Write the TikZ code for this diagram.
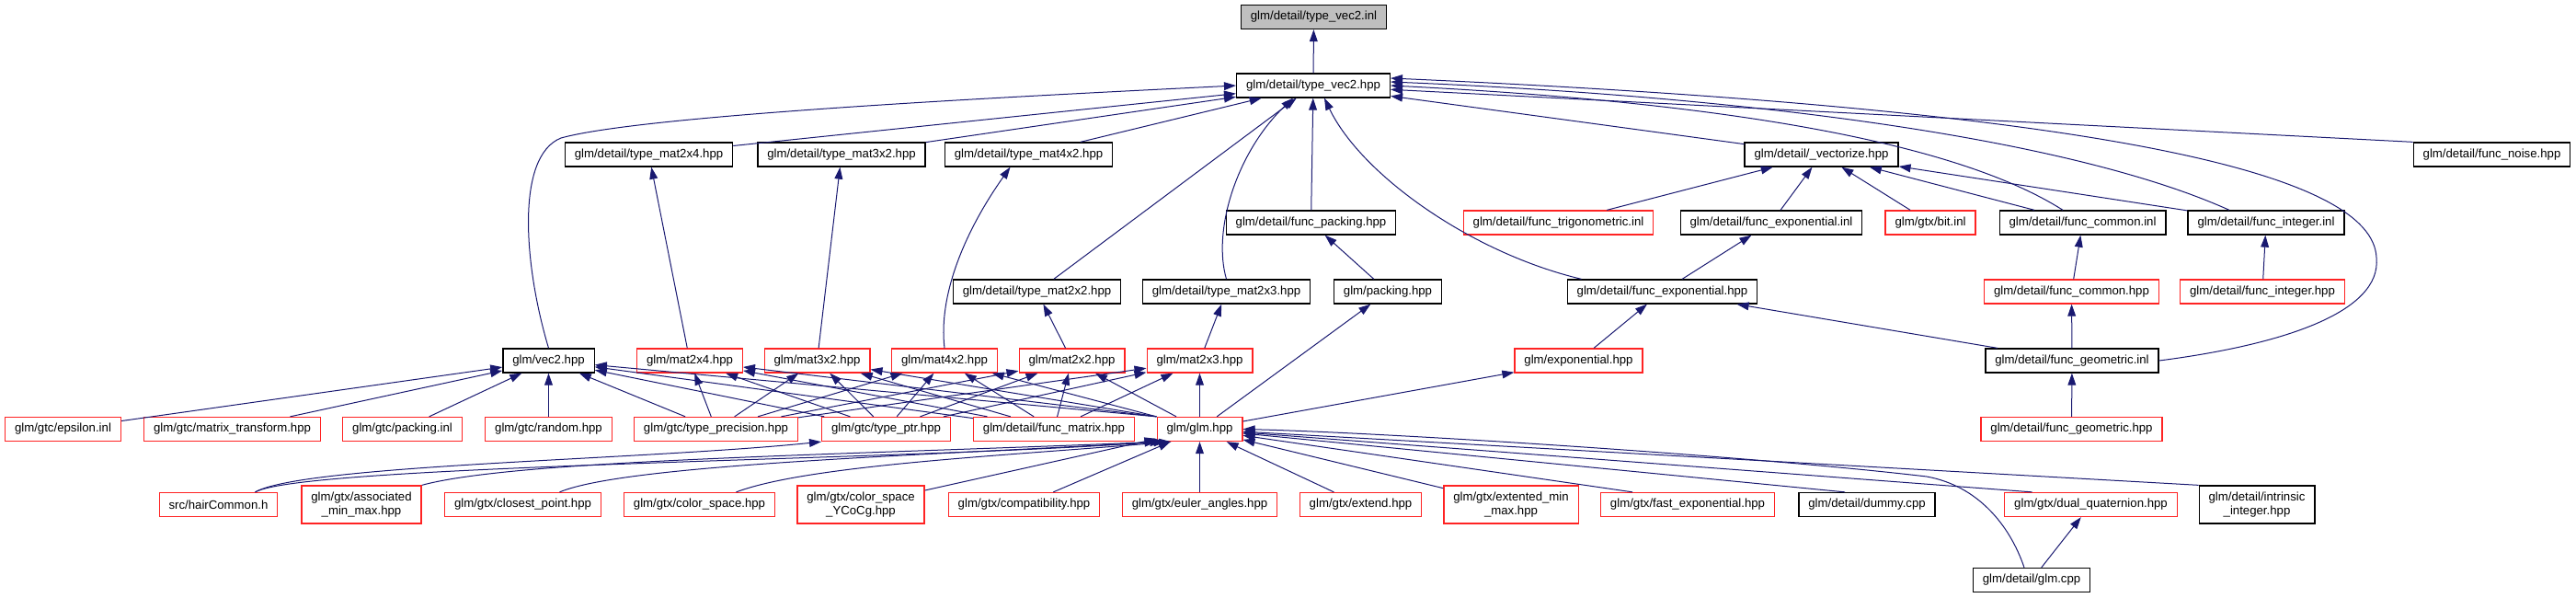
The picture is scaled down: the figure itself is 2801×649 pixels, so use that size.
\documentclass[tikz,border=0pt]{standalone}
\usepackage{fontspec}
\setmainfont{Liberation Sans}
\usetikzlibrary{arrows.meta}
\definecolor{edgeblue}{RGB}{25,25,112}
\definecolor{boxred}{RGB}{255,35,35}

\begin{document}
\begin{tikzpicture}[x=0.5pt, y=0.5pt, font=\fontsize{6.6}{7.3}\selectfont,
    file/.style={draw=black, line width=0.65pt, fill=white, inner xsep=5.2pt, inner ysep=0pt, minimum height=13pt},
    trunc/.style={file, draw=boxred},
    tall/.style={align=center, minimum height=20.5pt},
    link/.style={draw=edgeblue, line width=0.5pt, -{Triangle[length=6.5pt, width=4.4pt]}}]
    \useasboundingbox (0,0) rectangle (2801,-649);

    \node[file, fill=gray!50] (inl) at (1428.5,-18.5) {glm/detail/type\_vec2.inl};
    \node[file] (tvec) at (1428,-93) {glm/detail/type\_vec2.hpp};

    \node[file] (tm2x4) at (705.5,-168) {glm/detail/type\_mat2x4.hpp};
    \node[file] (tm3x2) at (915,-168) {glm/detail/type\_mat3x2.hpp};
    \node[file] (tm4x2) at (1118.5,-168) {glm/detail/type\_mat4x2.hpp};
    \node[file] (vectorize) at (1980.5,-168) {glm/detail/\_vectorize.hpp};
    \node[file] (noise) at (2709.5,-168) {glm/detail/func\_noise.hpp};

    \node[file] (fpacking) at (1425.5,-242) {glm/detail/func\_packing.hpp};
    \node[trunc] (ftrig) at (1694.5,-242) {glm/detail/func\_trigonometric.inl};
    \node[file] (fexpinl) at (1926,-242) {glm/detail/func\_exponential.inl};
    \node[trunc] (bit) at (2099,-242) {glm/gtx/bit.inl};
    \node[file] (fcommoninl) at (2264.5,-242) {glm/detail/func\_common.inl};
    \node[file] (fintinl) at (2464,-242) {glm/detail/func\_integer.inl};

    \node[file] (tm2x2) at (1127.5,-317) {glm/detail/type\_mat2x2.hpp};
    \node[file] (tm2x3) at (1333.5,-317) {glm/detail/type\_mat2x3.hpp};
    \node[file] (packing) at (1509,-317) {glm/packing.hpp};
    \node[file] (fexphpp) at (1807.5,-317) {glm/detail/func\_exponential.hpp};
    \node[trunc] (fcommonhpp) at (2252.5,-317) {glm/detail/func\_common.hpp};
    \node[trunc] (finthpp) at (2460,-317) {glm/detail/func\_integer.hpp};

    \node[file] (vec2) at (596.5,-392) {glm/vec2.hpp};
    \node[trunc] (m2x4) at (750,-392) {glm/mat2x4.hpp};
    \node[trunc] (m3x2) at (888.5,-392) {glm/mat3x2.hpp};
    \node[trunc] (m4x2) at (1027,-392) {glm/mat4x2.hpp};
    \node[trunc] (m2x2) at (1165.5,-392) {glm/mat2x2.hpp};
    \node[trunc] (m2x3) at (1304.5,-392) {glm/mat2x3.hpp};
    \node[trunc] (exponential) at (1716.5,-392) {glm/exponential.hpp};
    \node[file] (fgeominl) at (2253,-392) {glm/detail/func\_geometric.inl};

    \node[trunc] (epsilon) at (68.5,-466.5) {glm/gtc/epsilon.inl};
    \node[trunc] (mtransform) at (252.5,-466.5) {glm/gtc/matrix\_transform.hpp};
    \node[trunc] (packinl) at (437.5,-466.5) {glm/gtc/packing.inl};
    \node[trunc] (random) at (596.5,-466.5) {glm/gtc/random.hpp};
    \node[trunc] (tprec) at (778.5,-466.5) {glm/gtc/type\_precision.hpp};
    \node[trunc] (tptr) at (963.5,-466.5) {glm/gtc/type\_ptr.hpp};
    \node[trunc] (fmatrix) at (1146,-466.5) {glm/detail/func\_matrix.hpp};
    \node[trunc] (glmhpp) at (1304.5,-466.5) {glm/glm.hpp};
    \node[trunc] (fgeomhpp) at (2252.5,-466.5) {glm/detail/func\_geometric.hpp};

    \node[trunc] (hair) at (237.5,-548.5) {src/hairCommon.h};
    \node[trunc, tall] (assoc) at (393,-548.5) {glm/gtx/associated\\\_min\_max.hpp};
    \node[trunc] (closest) at (568.5,-548.5) {glm/gtx/closest\_point.hpp};
    \node[trunc] (cspace) at (760.5,-548.5) {glm/gtx/color\_space.hpp};
    \node[trunc, tall] (ycocg) at (936,-548.5) {glm/gtx/color\_space\\\_YCoCg.hpp};
    \node[trunc] (compat) at (1113.5,-548.5) {glm/gtx/compatibility.hpp};
    \node[trunc] (euler) at (1304.5,-548.5) {glm/gtx/euler\_angles.hpp};
    \node[trunc] (extend) at (1479.5,-548.5) {glm/gtx/extend.hpp};
    \node[trunc, tall] (extminmax) at (1643,-548.5) {glm/gtx/extented\_min\\\_max.hpp};
    \node[trunc] (fastexp) at (1835,-548.5) {glm/gtx/fast\_exponential.hpp};
    \node[file] (dummy) at (2030,-548.5) {glm/detail/dummy.cpp};
    \node[trunc] (dualq) at (2273.5,-548.5) {glm/gtx/dual\_quaternion.hpp};
    \node[file, tall] (intrinsic) at (2454,-548.5) {glm/detail/intrinsic\\\_integer.hpp};
    \node[file] (glmcpp) at (2209,-630.5) {glm/detail/glm.cpp};

    \draw[link] (tvec) -- (inl);
    \foreach \n in {tm2x4, tm3x2, tm4x2, tm2x2, fpacking, vectorize}
        \draw[link] (\n) -- (tvec);
    \draw[link] (noise.north west) -- (tvec);
    \draw[link] (vec2.north) .. controls (570,-290) and (560,-170) .. (610,-150)
        .. controls (700,-125) and (1100,-105) .. (tvec.west);
    \draw[link] (tm2x3.north) .. controls (1318,-250) and (1345,-165) .. ([xshift=-11pt]tvec.south);
    \draw[link] ([xshift=-44pt]fexphpp.north) .. controls (1600,-275) and (1480,-190) .. ([xshift=6pt]tvec.south);
    \draw[link] ([xshift=-10.75pt]fcommoninl.north) .. controls (2120,-150) and (1850,-110) .. (tvec.east);
    \draw[link] ([xshift=-20pt]fintinl.north) .. controls (2250,-150) and (1900,-105) .. ([yshift=2pt]tvec.east);
    \draw[link] (fgeominl.east) .. controls (2480,-375) and (2590,-340) .. (2584,-280)
        .. controls (2580,-190) and (2300,-120) .. ([yshift=4pt]tvec.east);

    \foreach \a/\b in {m2x4/tm2x4, m3x2/tm3x2, m2x2/tm2x2, m2x3/tm2x3, packing/fpacking,
        glmhpp/packing, fexpinl/vectorize, ftrig/vectorize, bit/vectorize, fcommoninl/vectorize,
        fintinl/vectorize, fexphpp/fexpinl, fcommonhpp/fcommoninl, finthpp/fintinl,
        exponential/fexphpp, fgeominl/fexphpp, fgeominl/fcommonhpp, fgeomhpp/fgeominl,
        glmhpp/exponential, epsilon/vec2, mtransform/vec2, packinl/vec2, random/vec2}
        \draw[link] (\a) -- (\b);
    \draw[link] (m4x2.north) .. controls (1020,-320) and (1050,-250) .. ([xshift=-10pt]tm4x2.south);

    \foreach \a in {tprec, tptr, fmatrix}
        \foreach \b in {vec2, m2x4, m3x2, m4x2, m2x2, m2x3}
            \draw[link] (\a) -- (\b);
    \foreach \b in {vec2, m2x4, m3x2, m4x2}
        \draw[link] (glmhpp.north west) -- (\b);
    \foreach \b in {m2x2, m2x3}
        \draw[link] (glmhpp) -- (\b);

    \foreach \n in {ycocg, compat, euler, extend, extminmax}
        \draw[link] (\n) -- (glmhpp);
    \draw[link] ([xshift=-30pt]fastexp.north) -- (glmhpp);
    \draw[link] ([xshift=-12pt]dummy.north) -- (glmhpp);
    \draw[link] ([xshift=-32pt]dualq.north) -- (glmhpp);
    \draw[link] (intrinsic.north west) -- (glmhpp);
    \draw[link] ([xshift=20pt]hair.north) .. controls (330,-505) and (1000,-500) .. (glmhpp.south west);
    \draw[link] ([xshift=20pt]hair.north) .. controls (330,-505) and (700,-500) .. (tptr.south west);
    \draw[link] (assoc.north east) .. controls (560,-500) and (900,-495) .. ([xshift=3pt]glmhpp.south west);
    \draw[link] ([xshift=20pt]closest.north) .. controls (680,-505) and (1000,-495) .. ([xshift=5pt]glmhpp.south west);
    \draw[link] ([xshift=20pt]cspace.north) .. controls (880,-505) and (1100,-495) .. ([xshift=8pt]glmhpp.south west);
    \draw[link] ([xshift=-4pt]glmcpp.north) .. controls (2185,-570) and (2150,-528) .. (2095,-518)
        .. controls (1900,-495) and (1500,-470) .. (glmhpp.east);
    \draw[link] (glmcpp) -- (dualq);
\end{tikzpicture}
\end{document}
